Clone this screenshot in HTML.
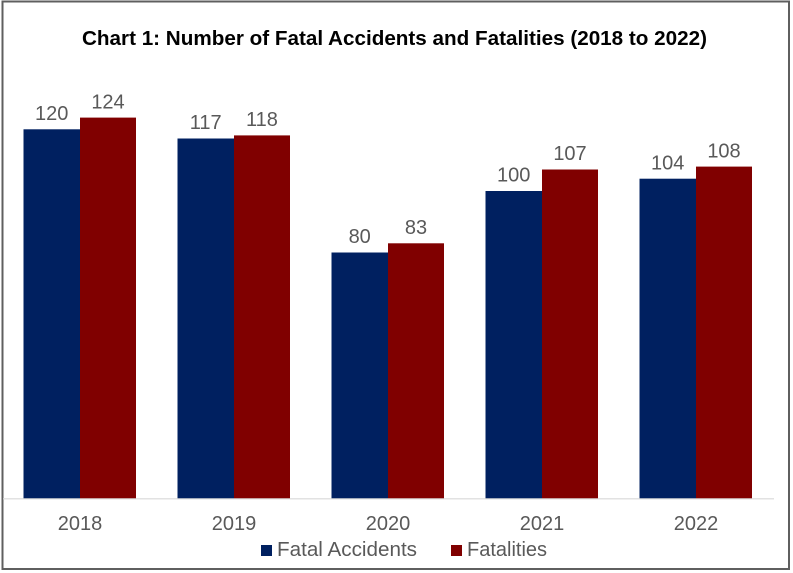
<!DOCTYPE html>
<html>
<head>
<meta charset="utf-8">
<style>
  html, body { margin:0; padding:0; background:#ffffff; }
  svg { display:block; }
</style>
</head>
<body>
<svg width="793" height="573" viewBox="0 0 793 573" xmlns="http://www.w3.org/2000/svg">
  <rect x="0" y="0" width="793" height="573" fill="#ffffff"/>
  <rect x="2.5" y="1.5" width="786.5" height="567.5" fill="#ffffff" stroke="#5f5f5f" stroke-width="2"/>

  <text x="394.5" y="45" text-anchor="middle" font-family="Liberation Sans, Arial, sans-serif" font-weight="bold" font-size="20" fill="#000000" textLength="625" lengthAdjust="spacingAndGlyphs">Chart 1: Number of Fatal Accidents and Fatalities (2018 to 2022)</text>

  <!-- bars -->
  <g>
    <rect x="23.5" y="129.3" width="56.5" height="369.2" fill="#002060"/>
    <rect x="80" y="117.6" width="56" height="380.9" fill="#800000"/>

    <rect x="177.5" y="138.5" width="56.5" height="360" fill="#002060"/>
    <rect x="234" y="135.4" width="56" height="363.1" fill="#800000"/>

    <rect x="331.5" y="252.5" width="56.5" height="246" fill="#002060"/>
    <rect x="388" y="243.3" width="56" height="255.2" fill="#800000"/>

    <rect x="485.5" y="191" width="56.5" height="307.5" fill="#002060"/>
    <rect x="542" y="169.5" width="56" height="329" fill="#800000"/>

    <rect x="639.5" y="178.7" width="56.5" height="319.8" fill="#002060"/>
    <rect x="696" y="166.6" width="56" height="331.9" fill="#800000"/>
  </g>

  <line x1="3" y1="498.8" x2="774" y2="498.8" stroke="#d9d9d9" stroke-width="1.2"/>

  <g font-family="Liberation Sans, Arial, sans-serif" font-size="20" fill="#595959" text-anchor="middle">
    <text x="51.7" y="120">120</text>
    <text x="108" y="108.3">124</text>
    <text x="205.7" y="129.2">117</text>
    <text x="262" y="126.1">118</text>
    <text x="359.7" y="243.2">80</text>
    <text x="416" y="234">83</text>
    <text x="513.7" y="181.7">100</text>
    <text x="570" y="160.2">107</text>
    <text x="667.7" y="169.4">104</text>
    <text x="724" y="157.3">108</text>

    <text x="80" y="530">2018</text>
    <text x="234" y="530">2019</text>
    <text x="388" y="530">2020</text>
    <text x="542" y="530">2021</text>
    <text x="696" y="530">2022</text>
  </g>

  <!-- legend -->
  <rect x="261" y="545" width="11" height="11" fill="#002060"/>
  <text x="277" y="556" font-family="Liberation Sans, Arial, sans-serif" font-size="20" fill="#595959" textLength="140" lengthAdjust="spacingAndGlyphs">Fatal Accidents</text>
  <rect x="451" y="545" width="11" height="11" fill="#800000"/>
  <text x="467" y="556" font-family="Liberation Sans, Arial, sans-serif" font-size="20" fill="#595959">Fatalities</text>
</svg>
</body>
</html>
